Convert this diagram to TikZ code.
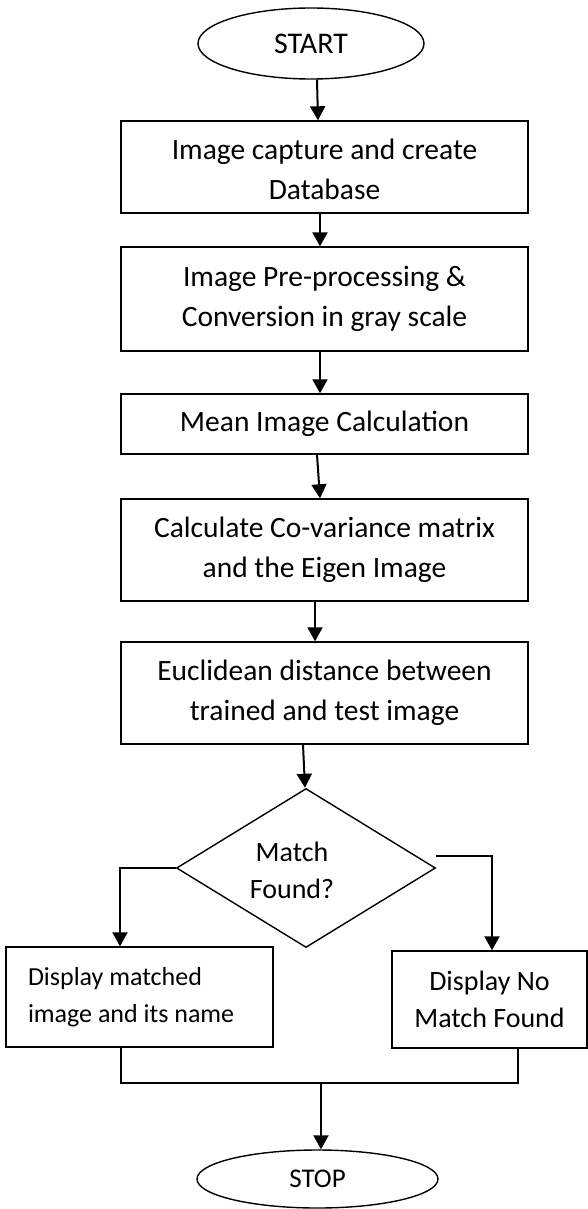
\documentclass[tikz,border=0pt]{standalone}
\usepackage{fontspec}
\setmainfont{Carlito}
\usetikzlibrary{shapes.geometric,arrows.meta}
\begin{document}
\begin{tikzpicture}[x=1pt,y=-1pt,
  box/.style={draw,line width=1.4pt,inner sep=0pt,align=center,font=\fontsize{29.5pt}{40pt}\selectfont},
  term/.style={draw,ellipse,line width=1.4pt,inner sep=0pt},
  arr/.style={line width=2pt,-{Triangle[length=14pt,width=15pt]}},
  joinline/.style={line width=1.4pt}]
\useasboundingbox (0,0) rectangle (588,1209);
\node[term,minimum width=226pt,minimum height=71pt,font=\fontsize{30pt}{36pt}\selectfont] (start) at (311,43.5) {START};
\node[box,minimum width=407pt,minimum height=92pt] (b1) at (324.5,167) {\raisebox{-5pt}[\height][\depth]{\begin{tabular}{@{}c@{}}Image capture and create\\Database\end{tabular}}};
\node[box,minimum width=407pt,minimum height=104pt] (b2) at (324.5,299) {Image Pre-processing \&\\Conversion in gray scale};
\node[box,minimum width=407pt,minimum height=60pt] (b3) at (324.5,424) {Mean Image Calculation};
\node[box,minimum width=407pt,minimum height=102pt] (b4) at (324.5,550) {Calculate Co-variance matrix\\and the Eigen Image};
\node[box,minimum width=407pt,minimum height=102pt] (b5) at (324.5,693) {Euclidean distance between\\trained and test image};
\node[draw,diamond,line width=1.4pt,inner sep=0pt,minimum width=259pt,minimum height=159pt] (dec) at (306,868) {};
\node[align=center,inner sep=0pt,font=\fontsize{28pt}{37pt}\selectfont] (dtext) at (292,870) {Match\\Found?};
\node[box,minimum width=267pt,minimum height=100pt] (left) at (139.5,997) {\begin{minipage}{223pt}\raggedright\fontsize{26pt}{37pt}\selectfont Display matched\\image and its name\end{minipage}};
\node[box,minimum width=195pt,minimum height=97pt,font=\fontsize{28pt}{37pt}\selectfont] (right) at (489.5,999.5) {Display No\\Match Found};
\node[term,minimum width=241pt,minimum height=58pt,font=\fontsize{27pt}{32pt}\selectfont] (stop) at (317.5,1179) {STOP};
\coordinate (m) at (321,1083);
\draw[arr] ([xshift=6pt]start.south) -- ([xshift=-6.5pt]b1.north);
\draw[arr] ([xshift=-4.5pt]b1.south) -- ([xshift=-4.5pt]b2.north);
\draw[arr] ([xshift=-4.5pt]b2.south) -- ([xshift=-4.5pt]b3.north);
\draw[arr] ([xshift=-7.5pt]b3.south) -- ([xshift=-4.5pt]b4.north);
\draw[arr] ([xshift=-9.5pt]b4.south) -- ([xshift=-9.5pt]b5.north);
\draw[arr] ([xshift=-21.5pt]b5.south) -- ([xshift=-1pt]dec.north);
\draw[arr] (dec.west) -| ([xshift=-19.5pt]left.north);
\draw[arr] ([yshift=12pt]dec.east) -| ([xshift=2.5pt]right.north);
\draw[joinline] ([xshift=-18.5pt]left.south) |- (m) -| ([xshift=28.5pt]right.south);
\draw[arr] (m) -- ([xshift=3.5pt]stop.north);
\end{tikzpicture}
\end{document}
